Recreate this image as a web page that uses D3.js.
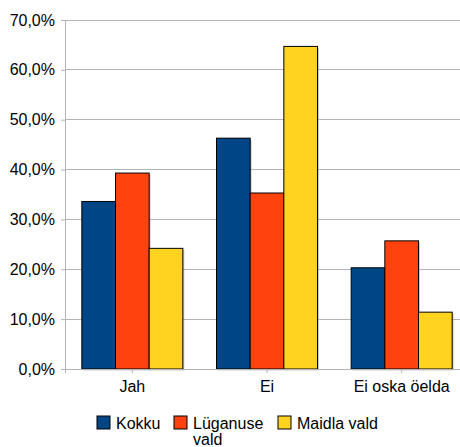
<!DOCTYPE html>
<html><head><meta charset="utf-8">
<script src="https://cdn.jsdelivr.net/npm/d3@7"></script>
<style>body{margin:0;background:#fff}svg{display:block}text{font-family:"Liberation Sans",Arial,sans-serif;fill:#000}</style>
</head><body><svg id="c" width="460" height="447"></svg>
<script>
const categories = ["Jah", "Ei", "Ei oska öelda"];
const seriesNames = ["Kokku", "Lüganuse vald", "Maidla vald"];
const kokku = [33.6, 46.3, 20.3];
const luganuse = [39.3, 35.3, 25.7];
const maidla = [24.2, 64.7, 11.4];
const yTicks = [0, 10, 20, 30, 40, 50, 60, 70];
const colors = ["#004586", "#ff420e", "#ffd320"];
const series = [kokku, luganuse, maidla];

const svg = d3.select("#c");
const pLeft = 65, pRight = 469, pTop = 20, pBottom = 369;
const x = d3.scaleBand().domain(categories).range([pLeft, pRight]).padding(0);
const xs = d3.scaleBand().domain(d3.range(3)).range([x.bandwidth() / 8, x.bandwidth() * 7 / 8]).padding(0);
const y = d3.scaleLinear().domain([0, 70]).range([pBottom, pTop]);

// gridlines
svg.append("g").selectAll("line").data(yTicks).join("line")
  .attr("x1", pLeft).attr("x2", 460).attr("y1", d => y(d)).attr("y2", d => y(d))
  .attr("stroke", "#b3b3b3").attr("stroke-width", 1).attr("shape-rendering", "crispEdges");

// y axis
const yAxis = d3.axisLeft(y).tickValues(yTicks).tickSize(4).tickPadding(6)
  .tickFormat(d => d.toFixed(1).replace(".", ",") + "%");
const gy = svg.append("g").attr("transform", `translate(${pLeft},0)`).call(yAxis);
gy.select(".domain").attr("stroke", "#b3b3b3");
gy.selectAll(".tick line").attr("stroke", "#b3b3b3");
gy.selectAll(".tick text").attr("font-size", 16).attr("font-family", "Liberation Sans, Arial, sans-serif").attr("fill", "#000");

// bars
const g = svg.append("g");
categories.forEach((c, i) => {
  series.forEach((s, j) => {
    g.append("rect")
      .attr("x", x(c) + xs(j) + 1.5).attr("y", y(s[i]) + 1.5)
      .attr("width", xs.bandwidth()).attr("height", pBottom - y(s[i]))
      .attr("fill", "#999").attr("opacity", 0.5);
    g.append("rect")
      .attr("x", x(c) + xs(j)).attr("y", y(s[i]))
      .attr("width", xs.bandwidth()).attr("height", pBottom - y(s[i]))
      .attr("fill", colors[j]).attr("stroke", "#000").attr("stroke-width", 1);
  });
});

// x axis
const xAxis = d3.axisBottom(x).tickSize(4).tickPadding(8);
const gx = svg.append("g").attr("transform", `translate(0,${pBottom})`).call(xAxis);
gx.select(".domain").attr("stroke", "#b3b3b3");
gx.selectAll(".tick line").attr("stroke", "#b3b3b3");
gx.selectAll(".tick text").attr("font-size", 16).attr("font-family", "Liberation Sans, Arial, sans-serif").attr("fill", "#000");

// legend
const legendX = [97, 174, 278];
const lg = svg.append("g");
seriesNames.forEach((n, j) => {
  lg.append("rect").attr("x", legendX[j]).attr("y", 416).attr("width", 13).attr("height", 13)
    .attr("fill", colors[j]).attr("stroke", "#000").attr("stroke-width", 1);
  const t = lg.append("text").attr("x", legendX[j] + 19).attr("y", 429).attr("font-size", 16);
  const lines = j === 1 ? ["Lüganuse", "vald"] : [n];
  lines.forEach((l, k) => t.append("tspan").attr("x", legendX[j] + 19).attr("dy", k === 0 ? 0 : 16).text(l));
});
</script></body></html>
